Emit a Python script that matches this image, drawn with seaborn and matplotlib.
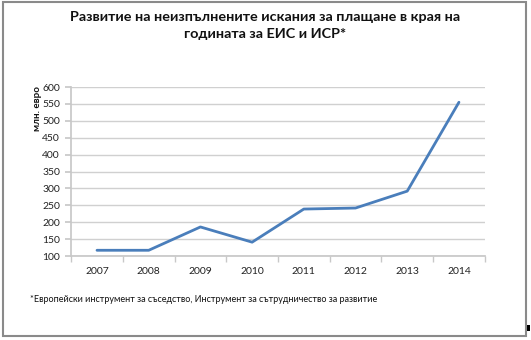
import matplotlib
matplotlib.use("Agg")
import matplotlib.pyplot as plt
import seaborn as sns
import pandas as pd
from matplotlib.patches import Rectangle

years = ["2007", "2008", "2009", "2010", "2011", "2012", "2013", "2014"]
claims = [117, 117, 186, 141, 239, 242, 292, 555]
y_ticks = [100, 150, 200, 250, 300, 350, 400, 450, 500, 550, 600]

title = "Развитие на неизпълнените искания за плащане в края на\nгодината за ЕИС и ИСР*"
y_label = "млн. евро"
footnote = "*Европейски инструмент за съседство, Инструмент за сътрудничество за развитие"

sns.set_theme(style="white")
plt.rcParams["font.family"] = ["Lato", "DejaVu Sans"]

df = pd.DataFrame({"year": years, "value": claims})
df["pos"] = range(len(years))

fig = plt.figure(figsize=(5.31, 3.40), dpi=100)
ax = fig.add_axes([0.134, 0.247, 0.779, 0.497])

sns.lineplot(data=df, x="pos", y="value", ax=ax, color="#4a7ebb", linewidth=2.0)

ax.set_xlim(-0.5, len(years) - 0.5)
ax.set_ylim(y_ticks[0], y_ticks[-1])
ax.set_yticks(y_ticks)
ax.set_xticks(range(len(years)))
ax.set_xticklabels(years)
ax.set_xticks([i - 0.5 for i in range(len(years) + 1)], minor=True)
ax.yaxis.grid(True, color="#d0d0d0", linewidth=1.0)
ax.xaxis.grid(False)
ax.set_axisbelow(True)
ax.set_xlabel("")
ax.set_ylabel("")

for side in ["top", "right"]:
    ax.spines[side].set_visible(False)
ax.spines["left"].set_color("#c8c8c8")
ax.spines["bottom"].set_color("#c8c8c8")

ax.tick_params(axis="y", which="major", length=4, color="#c8c8c8", labelsize=7.5,
               labelcolor="#222222", left=True, pad=4)
ax.tick_params(axis="x", which="major", length=0, labelsize=7.5,
               labelcolor="#222222", pad=8)
ax.tick_params(axis="x", which="minor", length=4, color="#c8c8c8", bottom=True)

fig.text(0.50, 0.925, title, ha="center", va="center", fontsize=10.4,
         fontweight="bold", color="#111111", linespacing=1.45)
fig.text(0.070, 0.680, y_label, ha="center", va="center", rotation=90,
         fontsize=7, fontweight="bold", color="#111111")
fig.text(0.056, 0.118, footnote, ha="left", va="center", fontsize=6.5,
         color="#111111")

# outer frame around the whole chart
fig.patches.append(Rectangle((3 / 531, 4 / 340), 523 / 531, 334 / 340,
                             transform=fig.transFigure, fill=False,
                             edgecolor="#8a8a8a", linewidth=1.5))
fig.patches.append(Rectangle((527 / 531, 9 / 340), 3 / 531, 6 / 340,
                             transform=fig.transFigure, facecolor="black",
                             edgecolor="none"))

fig.savefig("out.png", dpi=100)
